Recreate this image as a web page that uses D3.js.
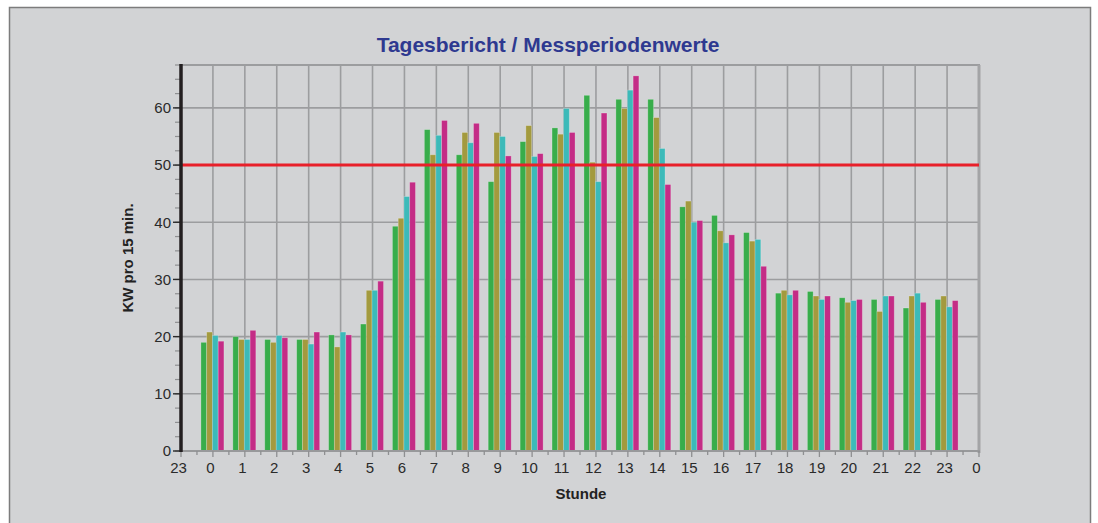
<!DOCTYPE html>
<html>
<head>
<meta charset="utf-8">
<script src="https://cdn.jsdelivr.net/npm/d3@7"></script>
<style>
  body { margin: 0; background: #ffffff; }
  svg { display: block; font-family: "Liberation Sans", Arial, sans-serif; }
</style>
</head>
<body>
<svg id="chart" width="1098" height="523"></svg>
<script>
// ---- data ----
const hours = [0,1,2,3,4,5,6,7,8,9,10,11,12,13,14,15,16,17,18,19,20,21,22,23];
const series1 = [19.0,20.0,19.5,19.5,20.3,22.2,39.3,56.2,51.8,47.1,54.1,56.5,62.2,61.5,61.5,42.7,41.2,38.2,27.6,27.9,26.8,26.5,25.0,26.5];
const series2 = [20.8,19.5,19.0,19.5,18.2,28.1,40.7,51.8,55.7,55.7,56.9,55.4,50.5,59.9,58.3,43.7,38.5,36.7,28.1,27.1,26.0,24.4,27.1,27.1];
const series3 = [20.2,19.5,20.2,18.7,20.8,28.1,44.5,55.2,53.9,55.0,51.5,59.9,47.1,63.1,52.9,40.0,36.4,37.0,27.3,26.5,26.3,27.1,27.6,25.2];
const series4 = [19.2,21.1,19.8,20.8,20.3,29.7,47.0,57.8,57.3,51.6,52.0,55.7,59.1,65.6,46.6,40.3,37.8,32.3,28.1,27.1,26.5,27.1,26.0,26.3];
const seriesNames = ["s1","s2","s3","s4"];
const seriesColors = ["#38ad4b","#a39a3e","#3cbab9","#c42c86"];
const xTickValues = [-1,0,1,2,3,4,5,6,7,8,9,10,11,12,13,14,15,16,17,18,19,20,21,22,23,24];
const xTickLabels = ["23","0","1","2","3","4","5","6","7","8","9","10","11","12","13","14","15","16","17","18","19","20","21","22","23","0"];
const yTicks = [0,10,20,30,40,50,60];
const limitValue = 50;
const titleText = "Tagesbericht / Messperiodenwerte";
const xTitle = "Stunde";
const yTitle = "KW pro 15 min.";

// ---- layout ----
const svg = d3.select("#chart");
const L = 181, R = 979, T = 65, B = 451;
const x = d3.scaleLinear().domain([-1, 24]).range([L, R]);
const y = d3.scaleLinear().domain([0, 67.5]).range([B, T]);
const sub = d3.scaleBand().domain(seriesNames).range([-12, 11]).padding(0);

// frame
svg.append("rect").attr("x", 9.5).attr("y", 7.5).attr("width", 1081).attr("height", 530)
  .attr("fill", "#d2d3d5").attr("stroke", "#7c7c7c").attr("stroke-width", 1.5);

// title
svg.append("text").attr("x", 548).attr("y", 52).attr("text-anchor", "middle")
  .attr("font-size", 21).attr("font-weight", "bold").attr("fill", "#2e3990").text(titleText);

// grid
const grid = svg.append("g");
grid.selectAll("line.v").data(d3.range(0, 24)).join("line")
  .attr("x1", d => x(d)).attr("x2", d => x(d)).attr("y1", T).attr("y2", B)
  .attr("stroke", "#9c9d9f").attr("stroke-width", 1.6);
grid.selectAll("line.h").data(yTicks.filter(d => d > 0)).join("line")
  .attr("x1", L).attr("x2", R).attr("y1", d => y(d)).attr("y2", d => y(d))
  .attr("stroke", "#9c9d9f").attr("stroke-width", 1.6);
// top border & right border
svg.append("line").attr("x1", L).attr("x2", R + 1).attr("y1", T).attr("y2", T)
  .attr("stroke", "#9c9d9f").attr("stroke-width", 2);
svg.append("line").attr("x1", R).attr("x2", R).attr("y1", T).attr("y2", B + 2)
  .attr("stroke", "#a3a4a6").attr("stroke-width", 3);

// bars
const seriesData = [series1, series2, series3, series4];
const barG = svg.append("g");
seriesData.forEach((vals, si) => {
  barG.selectAll("rect.s" + si).data(hours).join("rect")
    .attr("x", h => x(h) + sub(seriesNames[si]))
    .attr("width", sub.bandwidth())
    .attr("y", (h, i) => y(vals[i]))
    .attr("height", (h, i) => B - y(vals[i]))
    .attr("fill", seriesColors[si])
    .attr("stroke", "rgba(255,255,255,0.28)").attr("stroke-width", 0.8);
});

// limit line
svg.append("line").attr("x1", L).attr("x2", R).attr("y1", y(limitValue)).attr("y2", y(limitValue))
  .attr("stroke", "#e8202a").attr("stroke-width", 3);

// x axis
const xAxisG = svg.append("g").attr("transform", `translate(0,${B})`);
xAxisG.append("line").attr("x1", L).attr("x2", R + 1).attr("stroke", "#98999b").attr("stroke-width", 2);
xAxisG.selectAll("line.maj").data(xTickValues).join("line")
  .attr("x1", d => x(d)).attr("x2", d => x(d)).attr("y1", 0).attr("y2", 6)
  .attr("stroke", "#8e8f91").attr("stroke-width", 1.3);
xAxisG.selectAll("line.min").data(d3.range(-0.5, 24, 1)).join("line")
  .attr("x1", d => x(d)).attr("x2", d => x(d)).attr("y1", 0).attr("y2", 4)
  .attr("stroke", "#8e8f91").attr("stroke-width", 1.3);
xAxisG.selectAll("text").data(xTickValues).join("text")
  .attr("x", d => x(d) - 2.5).attr("y", 22).attr("text-anchor", "middle")
  .attr("font-size", 15).attr("fill", "#2a2a2a")
  .text((d, i) => xTickLabels[i]);

// y axis
const yAxisG = svg.append("g");
yAxisG.selectAll("line.min").data(d3.range(0, 67.6, 2.5)).join("line")
  .attr("x1", L - 6).attr("x2", L).attr("y1", d => y(d)).attr("y2", d => y(d))
  .attr("stroke", "#8e8f91").attr("stroke-width", 1.2);
yAxisG.selectAll("line.maj").data(yTicks).join("line")
  .attr("x1", L - 8).attr("x2", L).attr("y1", d => y(d)).attr("y2", d => y(d))
  .attr("stroke", "#2a2a2a").attr("stroke-width", 1.4);
yAxisG.append("line").attr("x1", L).attr("x2", L).attr("y1", T - 1).attr("y2", B + 1)
  .attr("stroke", "#231f20").attr("stroke-width", 3.5);
yAxisG.selectAll("text").data(yTicks).join("text")
  .attr("x", L - 10).attr("y", d => y(d)).attr("dy", "0.36em").attr("text-anchor", "end")
  .attr("font-size", 15).attr("fill", "#2a2a2a").text(d => d);

// axis titles
svg.append("text").attr("x", 581).attr("y", 499).attr("text-anchor", "middle")
  .attr("font-size", 15).attr("font-weight", "bold").attr("fill", "#222").text(xTitle);
svg.append("text").attr("transform", "translate(133,258) rotate(-90)").attr("text-anchor", "middle")
  .attr("font-size", 15).attr("font-weight", "bold").attr("fill", "#222").text(yTitle);
</script>
</body>
</html>
